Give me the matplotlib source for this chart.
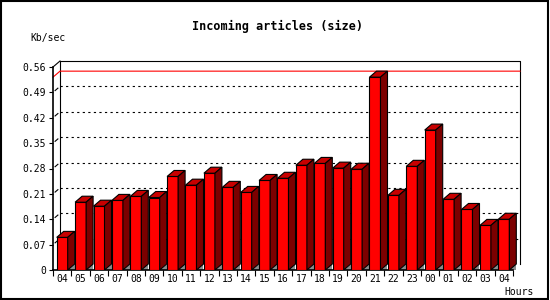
"""
Incoming articles (size) - 3D bar chart in the style of the old news server stats.
"""

import matplotlib
matplotlib.use("Agg")
import matplotlib.pyplot as plt
from matplotlib.patches import Polygon, Rectangle

hours = ["04", "05", "06", "07", "08", "09", "10", "11", "12", "13", "14", "15", "16",
         "17", "18", "19", "20", "21", "22", "23", "00", "01", "02", "03", "04"]
kb_per_sec = [0.090, 0.187, 0.176, 0.192, 0.203, 0.200, 0.258, 0.234, 0.267, 0.228,
              0.214, 0.247, 0.253, 0.289, 0.294, 0.281, 0.278, 0.532, 0.206, 0.286,
              0.386, 0.195, 0.167, 0.123, 0.140]
y_ticks = [0, 0.07, 0.14, 0.21, 0.28, 0.35, 0.42, 0.49, 0.56]
y_labels = ["0", "0.07", "0.14", "0.21", "0.28", "0.35", "0.42", "0.49", "0.56"]

FRONT = "#ff0000"
TOP = "#c80000"
SIDE = "#7c0000"
FLOOR = "#8c8c8c"
MONO = "DejaVu Sans Mono"

W, H = 550, 300
n = len(hours)
ymax = y_ticks[-1]

# pixel geometry of the plot frame
px_left, px_bottom = 53, 270
slot_px = 18.4
unit_px = 362.5
depth = 7  # 3d offset in px

dx = depth / slot_px
dy = (depth - 1) / unit_px

fig = plt.figure(figsize=(W / 100, H / 100), dpi=100)
ax_w = n * slot_px + depth
ax_h = ymax * unit_px + depth - 1
ax = fig.add_axes([px_left / W, (H - px_bottom) / H, ax_w / W, ax_h / H])
ax.set_xlim(0, n + dx)
ax.set_ylim(0, ymax + dy)
ax.patch.set_visible(False)

lw = 0.8

# back wall frame and gridlines
ax.plot([dx, dx, n + dx, n + dx], [dy, ymax + dy, ymax + dy, dy],
        color="black", lw=lw, clip_on=False, zorder=1)
ax.plot([0, dx], [ymax, ymax + dy], color="black", lw=lw, clip_on=False, zorder=1)
for v in y_ticks[1:-1]:
    ax.plot([dx, n + dx], [v + dy, v + dy], color="black", lw=lw,
            linestyle=(0, (2, 3)), clip_on=False, zorder=1)
    ax.plot([dx * 0.3, dx * 0.7], [v + dy * 0.3, v + dy * 0.7], color="black",
            lw=lw, clip_on=False, zorder=1)

# max line
peak = max(kb_per_sec)
ax.plot([0, dx, n + dx], [peak, peak + dy, peak + dy], color="red", lw=lw,
        clip_on=False, zorder=1.5)

# bars
bw = 11 / slot_px
for i, v in enumerate(kb_per_sec):
    x0 = i + 0.5 - bw / 2
    x1 = x0 + bw
    ax.add_patch(Polygon([(x1, 0), (x1 + dx, 0), (x1 + dx, dy)], closed=True,
                         facecolor=FLOOR, edgecolor="none", zorder=2))
    ax.add_patch(Rectangle((x0, 0), bw, v, facecolor=FRONT, edgecolor="black",
                           lw=lw, zorder=3))
    ax.add_patch(Polygon([(x0, v), (x0 + dx, v + dy), (x1 + dx, v + dy), (x1, v)],
                         closed=True, facecolor=TOP, edgecolor="black", lw=lw, zorder=3))
    ax.add_patch(Polygon([(x1, 0), (x1 + dx, dy), (x1 + dx, v + dy), (x1, v)],
                         closed=True, facecolor=SIDE, edgecolor="black", lw=lw, zorder=3))

# front axes
for side in ["top", "right"]:
    ax.spines[side].set_visible(False)
ax.spines["left"].set_bounds(0, ymax)
ax.spines["bottom"].set_bounds(0, n)
ax.spines["left"].set_linewidth(1.2)
ax.spines["bottom"].set_linewidth(1.2)

ax.set_yticks(y_ticks)
ax.set_yticklabels(y_labels, fontfamily=MONO, fontsize=7)
ax.set_xticks(range(n + 1))
ax.set_xticklabels([])
ax.set_xticks([i + 0.5 for i in range(n)], minor=True)
ax.set_xticklabels(hours, minor=True, fontfamily=MONO, fontsize=7)
ax.tick_params(axis="x", which="major", length=4, width=lw, direction="out")
ax.tick_params(axis="x", which="minor", length=0, pad=3)
ax.tick_params(axis="y", length=3, width=lw, pad=2)

fig.text(277 / W, 1 - 26 / H, "Incoming articles (size)", ha="center", va="center",
         fontfamily=MONO, fontweight="bold", fontsize=8.5)
fig.text(30 / W, 1 - 38 / H, "Kb/sec", ha="left", va="center",
         fontfamily=MONO, fontsize=7)
fig.text(534 / W, 1 - 292 / H, "Hours", ha="right", va="center",
         fontfamily=MONO, fontsize=7)

# outer border
fig.add_artist(Rectangle((0.002, 0.003), 0.995, 0.994, transform=fig.transFigure,
                         fill=False, edgecolor="black", lw=1.5))

fig.savefig("out.png", dpi=100)
